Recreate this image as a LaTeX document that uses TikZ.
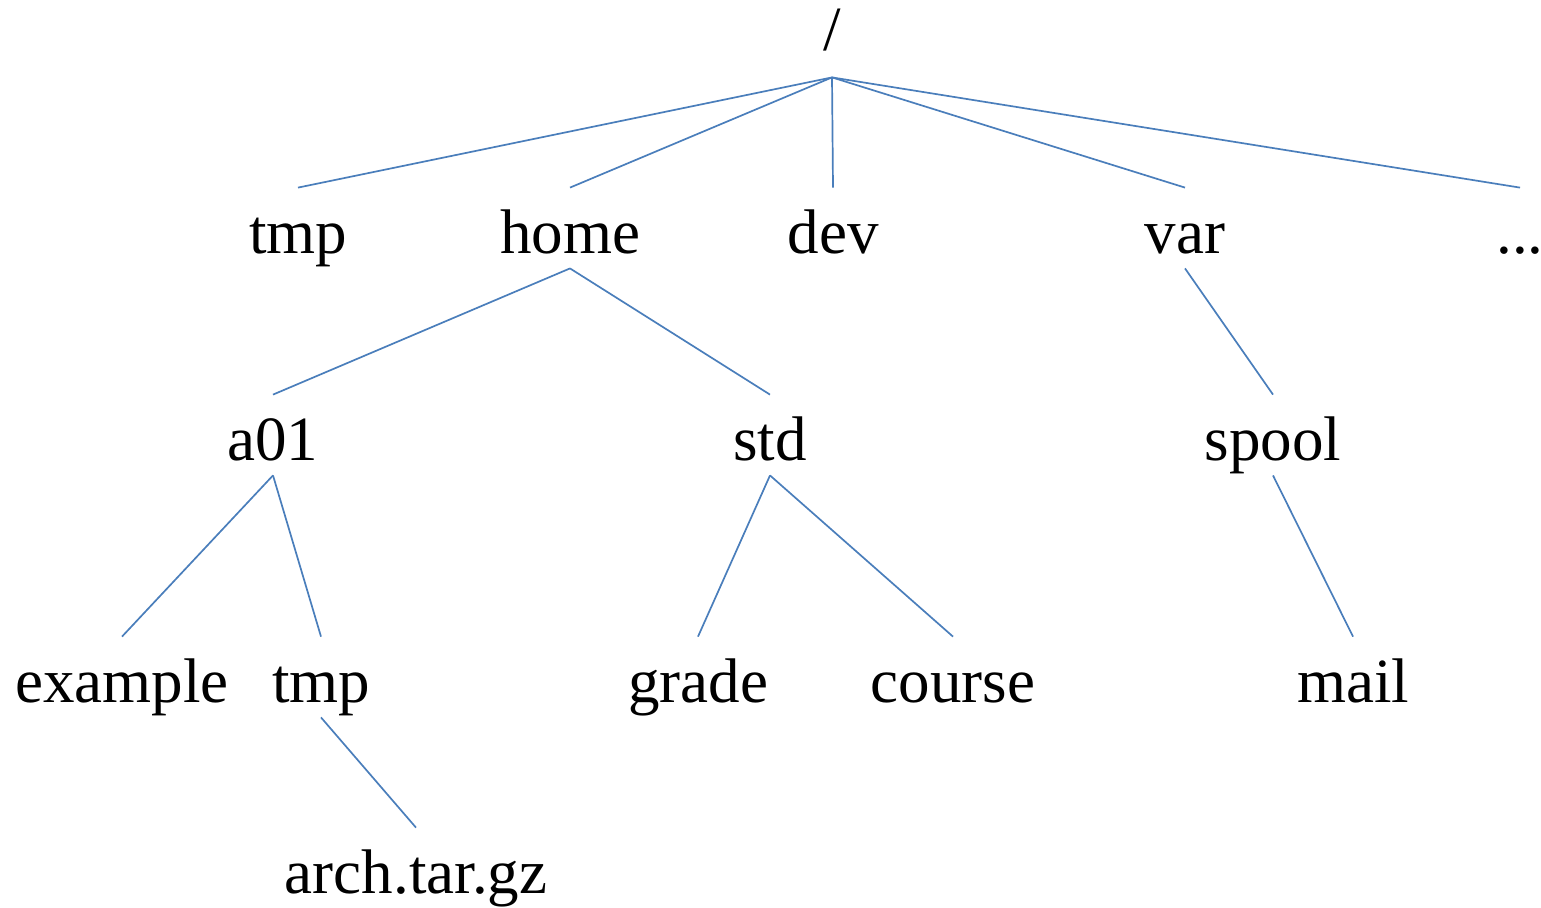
\documentclass[tikz,border=0pt]{standalone}
\usepackage{fontspec}
\setmainfont{Liberation Serif}
\definecolor{edgeblue}{RGB}{74,126,187}
\begin{document}
\begin{tikzpicture}[x=0.5pt,y=-0.5pt,
  lbl/.style={anchor=base,inner sep=0pt,text height=32.5pt,text depth=7.5pt,
    font=\fontsize{31.5}{36}\selectfont},
  edge/.style={draw=edgeblue,line width=0.85pt}]
\useasboundingbox (0,0) rectangle (1541,907);
\node[lbl,text depth=13.5pt] (root) at (832,50) {/};
\node[lbl] (tmp1) at (298,253) {tmp};
\node[lbl] (home) at (570,253) {home};
\node[lbl] (dev) at (833,253) {dev};
\node[lbl] (var) at (1185,253) {var};
\node[lbl] (more) at (1520,253) {...};
\node[lbl] (a01) at (273,460) {a01};
\node[lbl] (std) at (770,460) {std};
\node[lbl] (spool) at (1273,460) {spool};
\node[lbl] (example) at (122,702) {example};
\node[lbl] (tmp2) at (321,702) {tmp};
\node[lbl] (grade) at (698,702) {grade};
\node[lbl] (course) at (953,702) {course};
\node[lbl] (mail) at (1353,702) {mail};
\node[lbl] (arch) at (416,893) {arch.tar.gz};
\foreach \c in {tmp1,home,dev,var,more} \draw[edge] (root.south) -- (\c.north);
\draw[edge] (home.south) -- (a01.north);
\draw[edge] (home.south) -- (std.north);
\draw[edge] (var.south) -- (spool.north);
\draw[edge] (a01.south) -- (example.north);
\draw[edge] (a01.south) -- (tmp2.north);
\draw[edge] (std.south) -- (grade.north);
\draw[edge] (std.south) -- (course.north);
\draw[edge] (spool.south) -- (mail.north);
\draw[edge] (tmp2.south) -- (arch.north);
\end{tikzpicture}
\end{document}
